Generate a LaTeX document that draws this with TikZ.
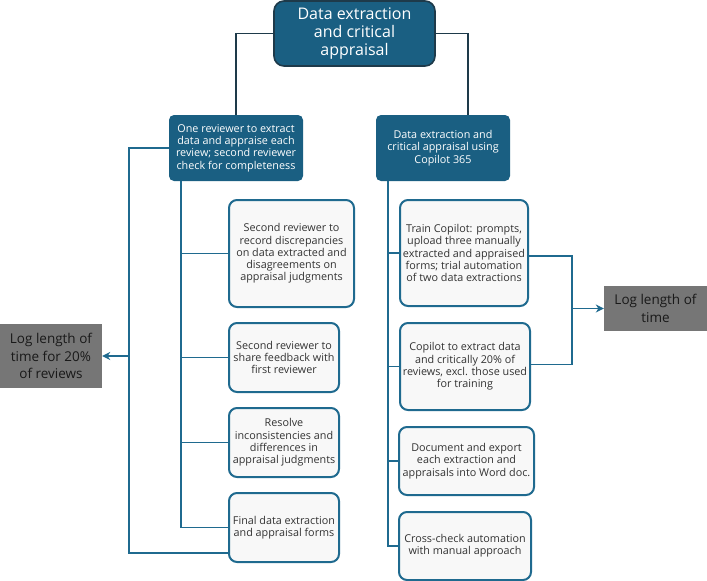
\documentclass[tikz,border=0pt]{standalone}
\usepackage{fontspec}
\setmainfont{Open Sans}
\usetikzlibrary{arrows.meta}

\definecolor{tealdark}{HTML}{1A5F82}
\definecolor{navyline}{HTML}{1E3A4A}
\definecolor{bluelink}{HTML}{1F6A8F}
\definecolor{paleinfo}{HTML}{F8F8F8}
\definecolor{greylog}{HTML}{767676}

\tikzset{
  headbox/.style={draw=navyline,line width=1.6pt,fill=tealdark,text=white,
    rounded corners=10pt,align=center,inner sep=2pt,
    font=\fontsize{16}{18.3}\selectfont},
  branchbox/.style={fill=tealdark,text=white,rounded corners=5pt,align=center,
    inner sep=2pt,font=\fontsize{10.8}{12.3}\selectfont},
  stepbox/.style={draw=bluelink,line width=2pt,fill=paleinfo,text=black!80,
    rounded corners=8pt,align=center,inner sep=2pt,
    font=\fontsize{10.8}{12.3}\selectfont},
  logbox/.style={fill=greylog,text=black!90,align=center,inner sep=2pt,
    font=\fontsize{13.5}{17.3}\selectfont},
  toplink/.style={draw=navyline,line width=1.6pt},
  link/.style={draw=bluelink,line width=1.8pt},
}

\begin{document}
\begin{tikzpicture}[x=1pt,y=-1pt,>={Stealth[length=8pt,width=8pt]}]
  \useasboundingbox (0,0) rectangle (707,581);

  % heading and the two branches
  \node[headbox,minimum width=161pt,minimum height=65pt] (head) at (354.5,33.5)
    {Data extraction\\and critical\\appraisal};
  \node[branchbox,minimum width=134pt,minimum height=66pt] (manual) at (236,148)
    {One reviewer to extract\\data and appraise each\\review; second reviewer\\check for completeness};
  \node[branchbox,minimum width=134pt,minimum height=66pt] (copilot) at (443,148)
    {Data extraction and\\critical appraisal using\\Copilot 365};

  % manual steps
  \node[stepbox,minimum width=125pt,minimum height=107pt] (m1) at (291.5,253.5)
    {Second reviewer to\\record discrepancies\\on data extracted and\\disagreements on\\appraisal judgments};
  \node[stepbox,minimum width=110pt,minimum height=69pt] (m2) at (284,357.5)
    {Second reviewer to\\share feedback with\\first reviewer};
  \node[stepbox,minimum width=110pt,minimum height=69pt] (m3) at (284,442.5)
    {Resolve\\inconsistencies and\\differences in\\appraisal judgments};
  \node[stepbox,minimum width=110pt,minimum height=69pt] (m4) at (284,527.5)
    {Final data extraction\\and appraisal forms};

  % copilot steps
  \node[stepbox,minimum width=128pt,minimum height=106pt] (c1) at (464,253)
    {Train Copilot: prompts,\\upload three manually\\extracted and appraised\\forms; trial automation\\of two data extractions};
  \node[stepbox,minimum width=130pt,minimum height=87pt] (c2) at (465,366.5)
    {Copilot to extract data\\and critically 20\% of\\reviews, excl. those used\\for training};
  \node[stepbox,minimum width=135pt,minimum height=68pt] (c3) at (466.5,461)
    {Document and export\\each extraction and\\appraisals into Word doc.};
  \node[stepbox,minimum width=132pt,minimum height=68pt] (c4) at (465,546)
    {Cross-check automation\\with manual approach};

  % time logs
  \node[logbox,minimum width=102pt,minimum height=64pt] (logmanual) at (51,356)
    {Log length of\\time for 20\%\\of reviews};
  \node[logbox,minimum width=103pt,minimum height=45pt] (logcopilot) at (655.5,308.5)
    {Log length of\\time};

  % connectors
  \draw[toplink] (head.west) -| (manual.north);
  \draw[toplink] (head.east) -| ([xshift=25pt]copilot.north);

  \coordinate (mtrunk) at ([xshift=12pt]manual.south west);
  \coordinate (ctrunk) at ([xshift=12pt]copilot.south west);
  \foreach \n in {m1,m2,m3,m4} {
    \draw[link] (mtrunk) |- (\n.west);
  }
  \foreach \n in {c1,c2,c3,c4} {
    \draw[link] (ctrunk) |- (\n.west);
  }

  \draw[link] (manual.west) -- ++(-40,0) coordinate (mout)
    |- ([yshift=10pt]m4.south west);
  \draw[link,->] (mout |- logmanual.east) -- (logmanual.east);

  \draw[link] ([yshift=-3pt]c1.east) -- ++(43,0) coordinate (cout)
    |- ([yshift=2pt]c2.east);
  \draw[link,->] (cout |- logcopilot.west) -- (logcopilot.west);
\end{tikzpicture}
\end{document}
